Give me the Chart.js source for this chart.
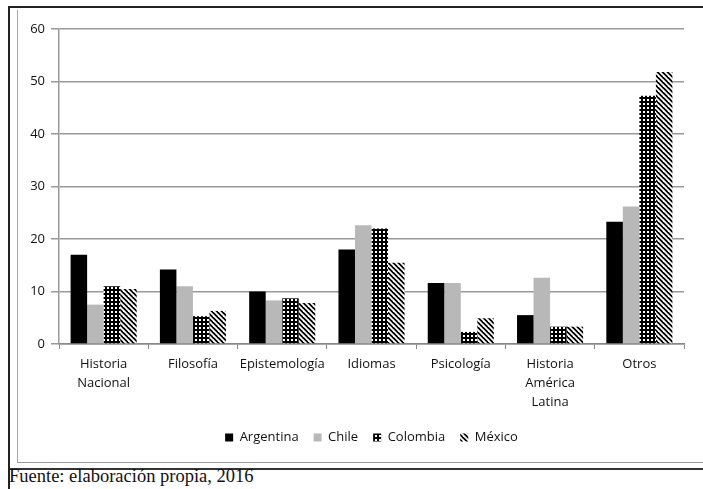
<!DOCTYPE html>
<html>
<head>
<meta charset="utf-8">
<script src="https://cdn.jsdelivr.net/npm/chart.js@4/dist/chart.umd.min.js"></script>
<style>
  body { margin: 0; background: #fff; width: 703px; height: 489px; overflow: hidden; position: relative; }
  #outer { position: absolute; left: 8px; top: 6px; width: 700px; height: 460px;
           border-left: 2px solid #222; border-top: 2px solid #222; border-bottom: 2px solid #333; }
  #inner { position: absolute; left: 17px; top: 10px; width: 690px; height: 452px;
           border-left: 1px solid #aaa; border-bottom: 1px solid #999; }
  #wrap { position: absolute; left: 18px; top: 10px; width: 685px; height: 452px; }
  #fuente { position: absolute; left: 9px; top: 466px; font-family: "Liberation Serif", serif;
            font-size: 18.5px; color: #111; }
  #leftline { position: absolute; left: 8px; top: 468px; width: 2px; height: 21px; background: #222; }
</style>
</head>
<body>
<div id="outer"></div>
<div id="inner"></div>
<div id="leftline"></div>
<div id="wrap"><canvas id="grafico"></canvas></div>
<div id="fuente">Fuente: elaboración propia, 2016</div>
<script>
var categorias = [["Historia", "Nacional"], "Filosofía", "Epistemología", "Idiomas", "Psicología", ["Historia", "América", "Latina"], "Otros"];
var argentina = [17, 14.2, 10, 18, 11.6, 5.5, 23.3];
var chile = [7.5, 11, 8.3, 22.6, 11.6, 12.6, 26.2];
var colombia = [11, 5.3, 8.7, 22, 2.3, 3.3, 47.3];
var mexico = [10.5, 6.3, 7.8, 15.5, 4.9, 3.3, 51.8];
var ticksY = [0, 10, 20, 30, 40, 50, 60];

function patronPuntos() {
    var c = document.createElement('canvas');
    c.width = 4; c.height = 4;
    var g = c.getContext('2d');
    g.fillStyle = '#000';
    g.fillRect(0, 0, 4, 4);
    g.fillStyle = '#fff';
    g.fillRect(1, 1, 2, 2);
    return g.createPattern(c, 'repeat');
}

function patronRayas() {
    var c = document.createElement('canvas');
    c.width = 5; c.height = 5;
    var g = c.getContext('2d');
    g.fillStyle = '#000';
    g.fillRect(0, 0, 5, 5);
    g.strokeStyle = '#fff';
    g.lineWidth = 1.8;
    [-5, 0, 5].forEach(function (o) {
        g.beginPath();
        g.moveTo(o - 1, -1);
        g.lineTo(o + 6, 6);
        g.stroke();
    });
    return g.createPattern(c, 'repeat');
}

var ctx = document.getElementById('grafico').getContext('2d');
var grafico = new Chart(ctx, {
    type: 'bar',
    data: {
        labels: categorias,
        datasets: [
            { label: 'Argentina', data: argentina, backgroundColor: '#000' },
            { label: 'Chile', data: chile, backgroundColor: '#b8b8b8' },
            { label: 'Colombia', data: colombia, backgroundColor: patronPuntos() },
            { label: 'México', data: mexico, backgroundColor: patronRayas() }
        ]
    },
    options: {
        responsive: true,
        maintainAspectRatio: false,
        animation: false,
        datasets: {
            bar: { categoryPercentage: 0.74, barPercentage: 1 }
        },
        layout: { padding: { left: 0, right: 19, top: 19, bottom: 8 } },
        plugins: {
            tooltip: { enabled: false },
            legend: {
                position: 'bottom',
                fullSize: false,
                labels: {
                    font: { family: 'Open Sans', size: 13 },
                    color: '#111',
                    boxWidth: 8,
                    boxHeight: 8,
                    padding: 15
                }
            }
        },
        scales: {
            x: {
                grid: { drawOnChartArea: false, color: '#888', tickLength: 5, offset: true },
                border: { color: '#888', width: 1.5 },
                ticks: {
                    font: { family: 'Open Sans', size: 13, lineHeight: 1.45 },
                    color: '#111',
                    padding: 6,
                    maxRotation: 0,
                    minRotation: 0,
                    autoSkip: false
                },
                afterFit: function (s) { s.height = 72; }
            },
            y: {
                min: 0,
                max: 60,
                afterBuildTicks: function (s) {
                    s.ticks = ticksY.map(function (v) { return { value: v }; });
                },
                grid: { color: '#999', lineWidth: 1.5, tickLength: 8 },
                border: { color: '#999', width: 1.5 },
                ticks: {
                    font: { family: 'Open Sans', size: 13 },
                    color: '#111',
                    padding: 6
                },
                afterFit: function (s) { s.width = 41; }
            }
        }
    }
});
</script>
</body>
</html>
